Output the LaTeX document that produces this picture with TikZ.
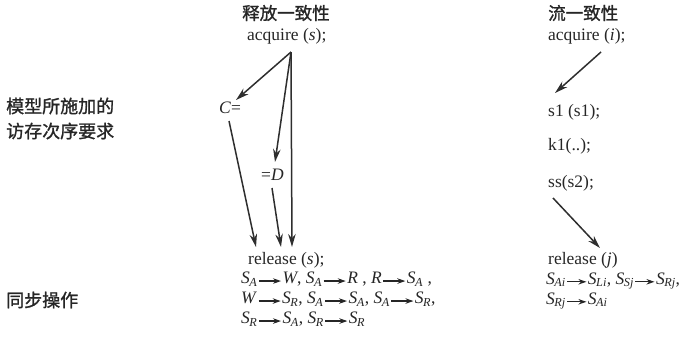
\documentclass[tikz,border=0pt]{standalone}
\usepackage{fontspec}
\setmainfont{Liberation Serif}
\newfontfamily\cjk[FakeBold=1.2]{Noto Sans CJK SC}
\usetikzlibrary{arrows.meta}
\newcommand{\Sx}[1]{\textit{S}\kern-0.5pt\textsubscript{\textit{#1}}}
\newcommand{\arr}{\kern1pt\raisebox{0.3ex}{\tikz[baseline]\draw[-{Stealth[length=8pt,width=5.5pt]},line width=1.1pt,draw=black!85] (0,0)--(22pt,0);}\kern1pt}
\newcommand{\arrs}{\kern1pt\raisebox{0.3ex}{\tikz[baseline]\draw[-{Stealth[length=8pt,width=5.5pt]},line width=1.1pt,draw=black!85] (0,0)--(19pt,0);}\kern1pt}
\begin{document}
\begin{tikzpicture}[x=1pt,y=-1pt,
  cn/.style={inner sep=0pt,anchor=west,text=black!85,font=\cjk\fontsize{17.5}{20}\selectfont},
  tx/.style={inner sep=0pt,anchor=west,text=black!85,font=\fontsize{17.5}{20}\selectfont},
  ar/.style={draw=black!82,line width=1.5pt,-{Stealth[length=13pt,width=7.5pt]}}]
\useasboundingbox (0,0) rectangle (685,341);
% headers
\node[cn] (h1) at (242,13) {释放一致性};
\node[tx] (acqS) at (247,36) {acquire (\textit{s});};
\node[cn] (h2) at (548,13) {流一致性};
\node[tx] (acqI) at (548,36) {acquire (\textit{i});};
% left labels
\node[cn,font=\cjk\fontsize{18}{20}\selectfont] (l1) at (6,106) {模型所施加的};
\node[cn,font=\cjk\fontsize{18}{20}\selectfont] (l2) at (6,131) {访存次序要求};
\node[cn,font=\cjk\fontsize{18}{20}\selectfont] (l3) at (6,300) {同步操作};
% release consistency
\node[tx] (C) at (219,108) {\textit{C}=};
\node[tx] (D) at (261,175) {=\textit{D}};
\node[tx] (relS) at (248,260) {release (\textit{s});};
\node[tx] (r1) at (241,279) {\Sx{A}\arr\textit{W}, \Sx{A}\arr\textit{R} , \textit{R}\arr\Sx{A} ,};
\node[tx] (r2) at (241,299) {\textit{W}\arr\Sx{R}, \Sx{A}\arr\Sx{A}, \Sx{A}\arr\Sx{R},};
\node[tx] (r3) at (241,319) {\Sx{R}\arr\Sx{A}, \Sx{R}\arr\Sx{R}};
\coordinate (aS) at (291,52);
\coordinate (cTip) at (236,100);
\coordinate (dTip) at (275,162);
\coordinate (vTip) at (292,247);
\coordinate (cOut) at (229,121);
\coordinate (cEnd) at (256,247);
\coordinate (dOut) at (272,188);
\coordinate (dEnd) at (281,247);
\draw[ar] (aS) -- (cTip);
\draw[ar] (aS) -- (dTip);
\draw[ar] (aS) -- (vTip);
\draw[ar] (cOut) -- (cEnd);
\draw[ar] (dOut) -- (dEnd);
% stream consistency
\node[tx] (s1) at (548,112) {s1 (s1);};
\node[tx] (k1) at (548,146) {k1(..);};
\node[tx] (ss) at (548,183) {ss(s2);};
\node[tx] (relJ) at (548,260) {release (\textit{j})};
\node[tx] (q1) at (546,281) {\Sx{Ai}\arrs\Sx{Li}, \Sx{Sj}\arrs\Sx{Rj},};
\node[tx] (q2) at (546,301) {\Sx{Rj}\arrs\Sx{Ai}};
\coordinate (aI) at (601,52);
\coordinate (s1Tip) at (555,93);
\coordinate (ssOut) at (553,198);
\coordinate (relTip) at (600,248);
\draw[ar] (aI) -- (s1Tip);
\draw[ar] (ssOut) -- (relTip);
\end{tikzpicture}
\end{document}
